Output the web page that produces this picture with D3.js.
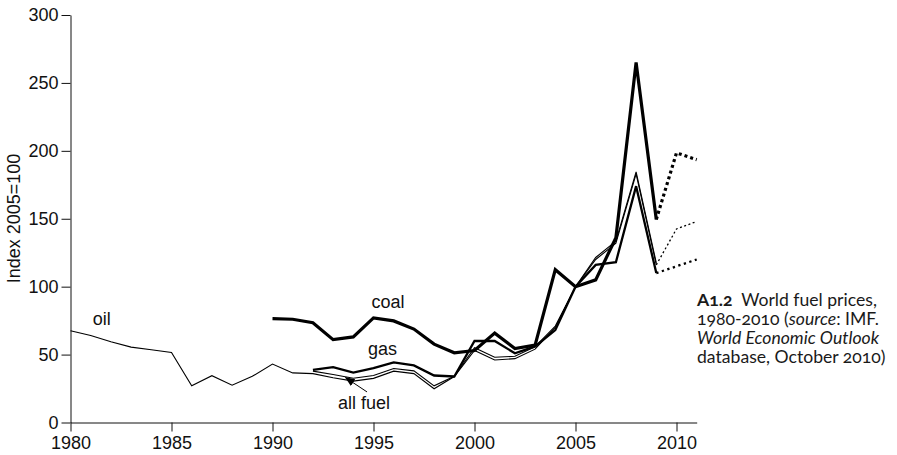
<!DOCTYPE html>
<html>
<head>
<meta charset="utf-8">
<script src="https://cdn.jsdelivr.net/npm/d3@7"></script>
<style>
  body { margin: 0; background: #fff; }
  svg { display: block; }
  .axis text { font-family: "Liberation Sans", Arial, sans-serif; font-size: 18px; fill: #111; }
  .axis path, .axis line { stroke: #111; stroke-width: 1; }
  .lbl { font-family: "Liberation Sans", Arial, sans-serif; font-size: 18px; fill: #111; }
  .caption { font-family: Lato, "Open Sans", sans-serif; font-size: 17.6px; fill: #1a1a1a; font-variant-numeric: oldstyle-nums; font-feature-settings: "onum" 1; }
</style>
</head>
<body>
<svg id="chart" width="897" height="455"></svg>
<script>
// World fuel prices, index 2005=100
const oilYears = [1980, 1981, 1982, 1983, 1984, 1985, 1986, 1987, 1988, 1989, 1990, 1991, 1992, 1993, 1994,
  1995, 1996, 1997, 1998, 1999, 2000, 2001, 2002, 2003, 2004, 2005, 2006, 2007, 2008, 2009];
const oilValues = [67.5, 64, 59.5, 55.5, 53.5, 51.5, 27, 34.5, 27.5, 34, 43, 36.5, 36, 33, 30.5,
  32.5, 37.8, 36, 24.8, 33.8, 53, 46, 47, 54, 70, 100, 120, 132, 183, 116];

const allFuelYears = [1992, 1993, 1994, 1995, 1996, 1997, 1998, 1999, 2000, 2001, 2002, 2003, 2004,
  2005, 2006, 2007, 2008, 2009];
const allFuelValues = [37.8, 35.3, 32.6, 34.6, 39.8, 38, 27, 34, 55, 48, 48.8, 55.8, 71, 100, 121.5, 133.5, 184.5, 117.5];

const gasYears = [1992, 1993, 1994, 1995, 1996, 1997, 1998, 1999, 2000, 2001, 2002, 2003, 2004,
  2005, 2006, 2007, 2008, 2009];
const gasValues = [38.8, 40.7, 36.8, 40, 44.2, 42, 34.6, 33.9, 60, 60, 51, 56, 68, 100, 116, 118, 174, 110];

const coalYears = [1990, 1991, 1992, 1993, 1994, 1995, 1996, 1997, 1998, 1999, 2000, 2001, 2002, 2003,
  2004, 2005, 2006, 2007, 2008, 2009];
const coalValues = [76.5, 76, 73.5, 61, 63, 77, 74.8, 68.8, 57.7, 51.3, 53, 65.8, 54.5, 57, 112.5, 100, 105, 136, 265, 149.5];

// IMF projections (dotted)
const projYears = [2009, 2010, 2011];
const oilProj = [116, 142.5, 148];
const gasProj = [110, 115, 120];
const coalProj = [149.5, 198.5, 193.5];

const yTicks = [0, 50, 100, 150, 200, 250, 300];
const xTicks = [1980, 1985, 1990, 1995, 2000, 2005, 2010];

const svg = d3.select('#chart');

const x = d3.scaleLinear().domain([1980, 2011]).range([70.5, 696.7]);
const y = d3.scaleLinear().domain([0, 300]).range([422.5, 15]);

// axes
svg.append('g')
  .attr('class', 'axis')
  .attr('transform', 'translate(70.5,0)')
  .call(d3.axisLeft(y).tickValues(yTicks).tickSize(9).tickPadding(3).tickSizeOuter(0));

svg.append('g')
  .attr('class', 'axis')
  .attr('transform', 'translate(0,422.5)')
  .call(d3.axisBottom(x).tickValues(xTicks).tickFormat(d3.format('d')).tickSize(9).tickPadding(5).tickSizeOuter(0));

svg.append('text')
  .attr('class', 'lbl')
  .attr('transform', 'translate(20,218.5) rotate(-90)')
  .attr('text-anchor', 'middle')
  .text('Index 2005=100');

const zip = (xs, vs) => xs.map((yr, i) => [yr, vs[i]]);
const line = d3.line().x(d => x(d[0])).y(d => y(d[1]));

const series = [
  { pts: zip(oilYears, oilValues), w: 1.1 },
  { pts: zip(allFuelYears, allFuelValues), w: 1.1 },
  { pts: zip(gasYears, gasValues), w: 2.3 },
  { pts: zip(coalYears, coalValues), w: 3.2 }
];

const projections = [
  { pts: zip(projYears, oilProj), w: 1.3, dash: '2,2.5' },
  { pts: zip(projYears, gasProj), w: 2.3, dash: '2.3,3.5' },
  { pts: zip(projYears, coalProj), w: 3.2, dash: '3,3' }
];

svg.append('g').selectAll('path')
  .data(projections)
  .join('path')
  .attr('d', d => line(d.pts))
  .attr('fill', 'none')
  .attr('stroke', '#000')
  .attr('stroke-width', d => d.w)
  .attr('stroke-dasharray', d => d.dash);

svg.append('g').selectAll('path')
  .data(series)
  .join('path')
  .attr('d', d => line(d.pts))
  .attr('fill', 'none')
  .attr('stroke', '#000')
  .attr('stroke-width', d => d.w)
  .attr('stroke-linejoin', 'miter');

// series labels
const labels = [
  { text: 'oil', yr: 1981.1, v: 71.8, anchor: 'start' },
  { text: 'coal', yr: 1995.72, v: 84.3, anchor: 'middle' },
  { text: 'gas', yr: 1995.45, v: 49.7, anchor: 'middle' },
  { text: 'all fuel', yr: 1993.24, v: 9.9, anchor: 'start' }
];
svg.append('g').selectAll('text')
  .data(labels)
  .join('text')
  .attr('class', 'lbl')
  .attr('x', d => x(d.yr))
  .attr('y', d => y(d.v))
  .attr('text-anchor', d => d.anchor)
  .text(d => d.text);

// arrow from "all fuel" to its line
svg.append('defs').append('marker')
  .attr('id', 'arrow')
  .attr('viewBox', '0 0 10 8')
  .attr('refX', 9).attr('refY', 4)
  .attr('markerWidth', 10).attr('markerHeight', 8)
  .attr('orient', 'auto')
  .append('path')
  .attr('d', 'M0,0L10,4L0,8z')
  .attr('fill', '#000');

svg.append('line')
  .attr('x1', x(1994.68)).attr('y1', y(22.5))
  .attr('x2', x(1993.62)).attr('y2', y(33))
  .attr('stroke', '#000')
  .attr('stroke-width', 1)
  .attr('marker-end', 'url(#arrow)');

// caption
const caption = svg.append('text').attr('class', 'caption');
const capX = 697;
const l1 = caption.append('tspan').attr('x', capX).attr('y', 306);
l1.append('tspan').attr('font-weight', 'bold').text('A1.2');
l1.append('tspan').text('\u2002World fuel prices,');
const l2 = caption.append('tspan').attr('x', capX).attr('y', 325);
l2.append('tspan').text('1980-2010 (');
l2.append('tspan').attr('font-style', 'italic').text('source');
l2.append('tspan').text(': IMF.');
caption.append('tspan').attr('x', capX).attr('y', 344).attr('font-style', 'italic').text('World Economic Outlook');
caption.append('tspan').attr('x', capX).attr('y', 363).text('database, October 2010)');
</script>
</body>
</html>
